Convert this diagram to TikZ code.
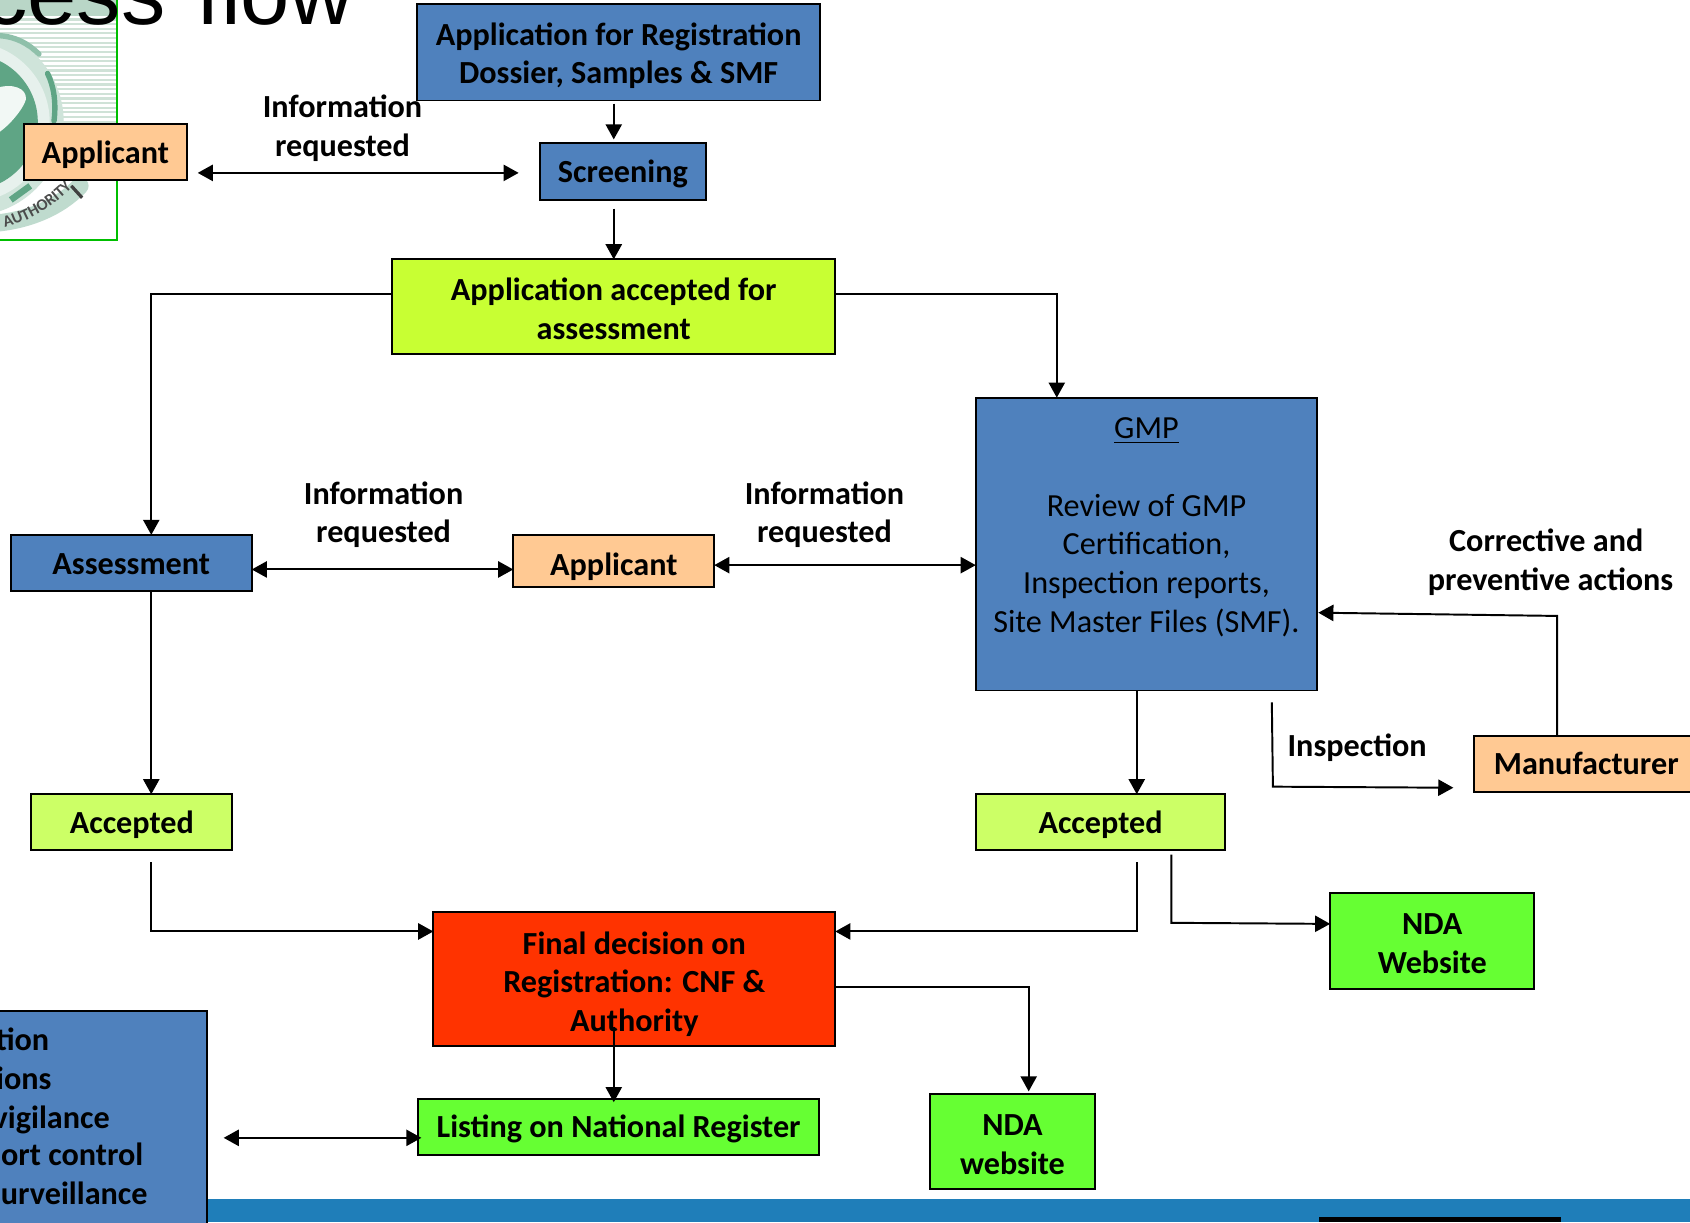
\documentclass[tikz,border=0pt]{standalone}
\usepackage{fontspec}
\setmainfont{Carlito}
\newfontfamily\titlefont{Liberation Sans}
\usetikzlibrary{arrows.meta,decorations.text}
\definecolor{boxblue}{HTML}{4F81BD}
\definecolor{boxorange}{HTML}{FFC993}
\definecolor{boxlime}{HTML}{C8FF33}
\definecolor{boxpale}{HTML}{CCFF66}
\definecolor{boxgreen}{HTML}{66FF33}
\definecolor{boxred}{HTML}{FF3300}
\definecolor{bandblue}{HTML}{1F7EB9}
\definecolor{seal}{HTML}{5FA585}
\definecolor{sealpale}{HTML}{CFE2D7}
\newcommand{\bx}[7]{%
  \pgfmathsetmacro\cx{(#2+#4)/2}\pgfmathsetmacro\cy{(#3+#5)/2}%
  \pgfmathsetmacro\bw{(#4-#2)*0.5}\pgfmathsetmacro\bh{(#5-#3)*0.5}%
  \node[boxbase,fill=#6,minimum width=\bw pt,minimum height=\bh pt] (#1) at (\cx,\cy) {#7};}
\newcommand{\tp}[1]{\rule{0pt}{#1pt}}
\tikzset{
  bodyfont/.style={font=\fontsize{14.9}{17.9}\selectfont\bfseries},
  struts/.style={execute at begin node={\rule{0pt}{14pt}},execute at end node={\rule[-4pt]{0pt}{4pt}}},
  boxbase/.style={draw=black,line width=0.9pt,inner sep=0pt,outer sep=0pt,align=center,bodyfont,struts},
  lbl/.style={inner sep=0pt,align=center,bodyfont,struts},
  clipped/.style={inner sep=0pt,anchor=east,bodyfont,struts},
  arr/.style={line width=0.9pt,-{Triangle[length=7pt,width=7.5pt]}},
  biarr/.style={line width=0.9pt,{Triangle[length=7pt,width=7.5pt]}-{Triangle[length=7pt,width=7.5pt]}},
}
\begin{document}
\begin{tikzpicture}[x=0.5pt,y=-0.5pt]
\useasboundingbox (0,0) rectangle (1564,1131);
\clip (0,0) rectangle (1564,1131);
% emblem panel
\fill[white] (0,0) rectangle (108,222);
\fill[sealpale!80!seal] (0,0) rectangle (108,15);
\foreach \yy in {18,22.3,...,114} {\draw[sealpale,line width=1pt] (0,\yy) -- (108,\yy);}
\draw[seal!40,line width=8pt,line cap=round] (-10,207) .. controls (25,205) and (55,192) .. (74,172);
\fill[seal!30] (-28,113) circle (87);
\fill[white!85!seal] (-28,113) circle (74);
\fill[seal] (-28,113) circle (63);
\draw[seal,line width=2.5pt,line cap=round] (44,68) .. controls (50,80) and (52,95) .. (50,112);
\draw[seal!70,line width=2.5pt,line cap=round] (0,33) .. controls (14,34) and (26,40) .. (36,50);
\draw[seal,line width=3pt] (10,185) -- (28,172);
\fill[white!92!seal] (-5,125) .. controls (8,118) and (22,100) .. (24,92) .. controls (25,82) and (12,76) .. (-5,82) -- cycle;
\path[decorate,decoration={text along path,text={|\fontsize{7.5}{8}\selectfont\bfseries\color{black!70}|AUTHORITY},text align=center}]
  (0,212) .. controls (25,206) and (50,192) .. (70,170);
\draw[black!75,line width=1.5pt] (66,172) -- (76,183);
\draw[green!75!black,line width=1pt] (108,-5) -- (108,222) -- (-5,222);
% title
\node[inner sep=0pt,anchor=base east,font=\fontsize{41}{44}\titlefont] (title) at (328,23) {cess\hspace{3pt} flow};
% band
\fill[bandblue] (192,1110) rectangle (1564,1131);
\fill[black] (1221,1126) rectangle (1445,1131);
% boxes
\bx{app}{386}{4}{759}{93}{boxblue}{\tp{15.3}Application for Registration\\Dossier, Samples \& SMF}
\bx{screen}{500}{132}{653}{185}{boxblue}{Screening}
\bx{accept}{363}{240}{773}{328}{boxlime}{\tp{16.4}Application accepted for\\assessment}
\bx{applicantA}{22}{115}{173}{167}{boxorange}{Applicant}
\bx{gmp}{903}{368}{1219}{639}{boxblue}{\tp{16}\mdseries\underline{GMP}\\[17.9pt]\mdseries Review of GMP\\\mdseries Certification,\\\mdseries Inspection reports,\\\mdseries Site Master Files (SMF).\\[2pt]\mbox{}}
\bx{assess}{10}{495}{233}{547}{boxblue}{\raisebox{-0.5pt}{Assessment}}
\bx{applicantB}{475}{495}{661}{543}{boxorange}{\raisebox{-2pt}{Applicant}}
\bx{manuf}{1364}{681}{1572}{733}{boxorange}{Manufacturer}
\bx{accA}{29}{735}{215}{787}{boxpale}{Accepted}
\bx{accB}{903}{735}{1134}{787}{boxpale}{Accepted}
\bx{final}{401}{844}{773}{968}{boxred}{\tp{16.9}Final decision on\\Registration: CNF \&\\Authority}
\bx{webA}{1231}{826}{1420}{915}{boxgreen}{\tp{16.2}NDA\\Website}
\bx{listing}{387}{1017}{758}{1069}{boxgreen}{Listing on National Register}
\bx{webB}{861}{1012}{1013}{1100}{boxgreen}{\tp{17}NDA\\website}
\bx{left}{-20}{936}{192}{1150}{boxblue}{}
\node[clipped] (la) at (46,962) {tion};
\node[clipped] (lb) at (48,998) {ions};
\node[clipped] (lc) at (102,1034) {vigilance};
\node[clipped] (ld) at (133,1069) {port control};
\node[clipped] (le) at (137,1105) {surveillance};
% labels
\node[lbl] (t1) at (317,120) {Information\\requested};
\node[lbl] (t2) at (355,478) {Information\\requested};
\node[lbl] (t3) at (763,478) {Information\\requested};
\node[lbl] (t4) at (1435,522) {Corrective and\hspace*{4pt}\\preventive actions};
\node[lbl] (t5) at (1256,690) {Inspection};
% free ends
\coordinate (f1) at (568,96);
\coordinate (f2) at (568,129);
\coordinate (f3) at (568,193);
\coordinate (f4) at (183,160);
\coordinate (f5) at (480,160);
\coordinate (f6) at (1177,650);
\coordinate (f7) at (1178,728);
\coordinate (f8) at (1345,729);
\coordinate (f9) at (140,798);
\coordinate (f10) at (140,862);
\coordinate (f11) at (1052,798);
\coordinate (f12) at (1052,862);
\coordinate (f13) at (1084,791);
\coordinate (f14) at (1084,854);
\coordinate (f15) at (1231,855);
\coordinate (f16) at (773,913);
\coordinate (f17) at (952,913);
\coordinate (f18) at (952,1010);
\coordinate (f19) at (568,950);
\coordinate (f20) at (568,1020);
\coordinate (f21) at (207,1053);
\coordinate (f22) at (390,1053);
\coordinate (f23) at (140,272);
\coordinate (f24) at (978,272);
\coordinate (f25) at (1441,570);
\coordinate (f26) at (1220,567);
\coordinate (f27) at (1052,639);
\coordinate (f28) at (233,527);
\coordinate (f29) at (661,523);
% connectors
\draw[arr] (f1) -- (f2);
\draw[arr] (f3) -- (f3 |- accept.north);
\draw[biarr] (f4) -- (f5);
\draw[arr] (f23 -| accept.west) -- (f23) -- (f23 |- assess.north);
\draw[arr] (f24 -| accept.east) -- (f24) -- (f24 |- gmp.north);
\draw[biarr] (f28) -- (f28 -| applicantB.west);
\draw[biarr] (f29) -- (f29 -| gmp.west);
\draw[arr] (f23 |- assess.south) -- (f23 |- accA.north);
\draw[arr] (f27) -- (f27 |- accB.north);
\draw[arr] (f25 |- manuf.north) -- (f25) -- (f26);
\draw[arr] (f6) -- (f7) -- (f8);
\draw[arr] (f9) -- (f10) -- (f10 -| final.west);
\draw[arr] (f11) -- (f12) -- (f12 -| final.east);
\draw[arr] (f13) -- (f14) -- (f15);
\draw[arr] (f16) -- (f17) -- (f18);
\draw[arr] (f19) -- (f20);
\draw[biarr] (f21) -- (f22);
\end{tikzpicture}
\end{document}
